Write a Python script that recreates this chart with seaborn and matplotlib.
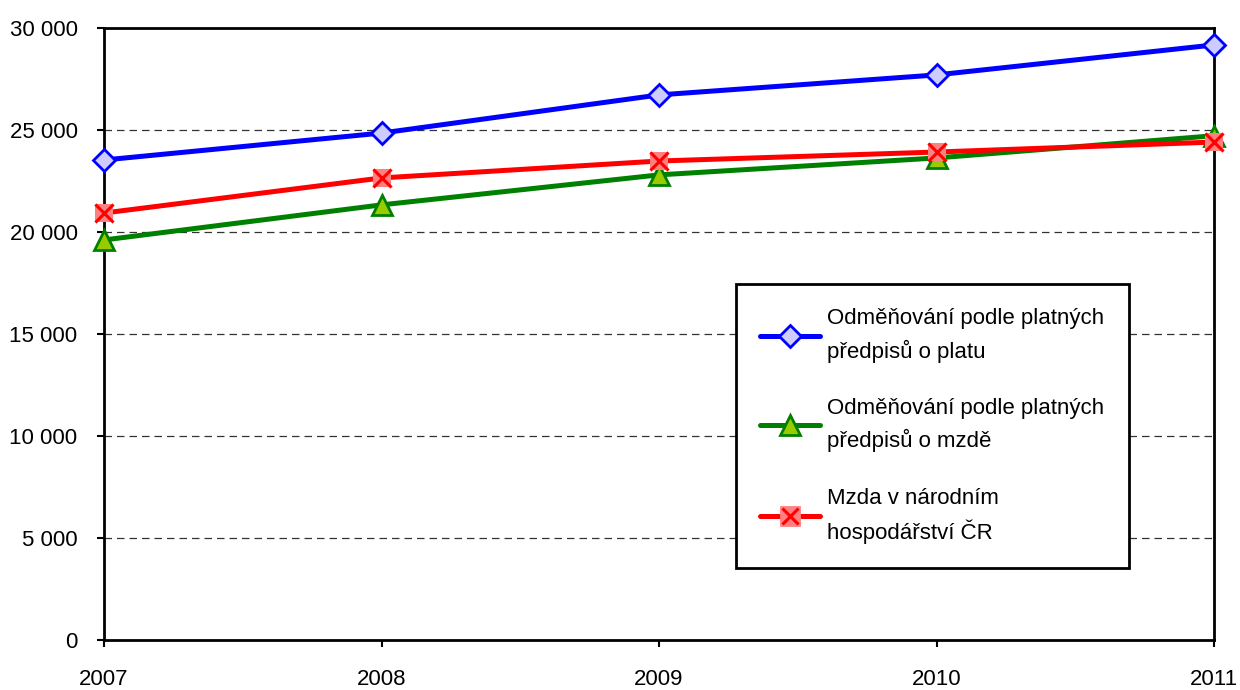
import matplotlib
matplotlib.use("Agg")
import matplotlib.pyplot as plt
import seaborn as sns
from matplotlib.lines import Line2D
from matplotlib.legend_handler import HandlerTuple
from matplotlib.ticker import FuncFormatter

years = [2007, 2008, 2009, 2010, 2011]
plat = [23530, 24850, 26720, 27700, 29170]
mzda_predpis = [19610, 21330, 22800, 23630, 24720]
mzda_nh = [20930, 22650, 23480, 23920, 24410]

labels = [
    "Odměňování podle platných\npředpisů o platu",
    "Odměňování podle platných\npředpisů o mzdě",
    "Mzda v národním\nhospodářství ČR",
]

sns.set_theme(style="white")
plt.rcParams["font.family"] = ["Liberation Sans", "DejaVu Sans"]
FS = 16

fig = plt.figure(figsize=(12.4, 6.9), dpi=100)
ax = fig.add_axes([104 / 1240, 1 - 640 / 690, 1110 / 1240, 612 / 690])

sns.lineplot(x=years, y=plat, ax=ax, color="#0000ff", linewidth=3.6,
             marker="D", markersize=11, markerfacecolor="#ccccff",
             markeredgecolor="#0000ff", markeredgewidth=2, clip_on=False, zorder=5)
sns.lineplot(x=years, y=mzda_predpis, ax=ax, color="#008000", linewidth=3.6,
             marker="^", markersize=14, markerfacecolor="#99cc00",
             markeredgecolor="#008000", markeredgewidth=2, clip_on=False, zorder=5)
sns.lineplot(x=years, y=mzda_nh, ax=ax, color="#ff0000", linewidth=3.6,
             marker="s", markersize=13, markerfacecolor="#ff8080",
             markeredgecolor="#ff8080", markeredgewidth=0, clip_on=False, zorder=6)
sns.scatterplot(x=years, y=mzda_nh, ax=ax, marker="x", s=170, color="#ff0000",
                linewidth=2.2, clip_on=False, zorder=7)

ax.set_xlim(2007, 2011)
ax.set_ylim(0, 30000)
ax.set_xticks(years)
ax.set_yticks(range(0, 30001, 5000))
ax.yaxis.set_major_formatter(FuncFormatter(lambda v, p: f"{int(v):,}".replace(",", " ")))

for y in range(5000, 30000, 5000):
    ax.axhline(y, color="#333333", linewidth=0.9, dashes=(6, 4), zorder=1)

for s in ax.spines.values():
    s.set_color("black")
    s.set_linewidth(2)
ax.tick_params(axis="both", which="major", direction="out", length=5, width=1.5,
               color="black", labelsize=FS, labelcolor="black")
ax.tick_params(axis="y", left=True, pad=14)
ax.tick_params(axis="x", bottom=True, pad=16)
ax.set_xlabel("")
ax.set_ylabel("")

def h(color, marker, face, size, edge=None):
    return Line2D([], [], color=color, linewidth=3.6, marker=marker, markersize=size,
                  markerfacecolor=face, markeredgecolor=edge or color, markeredgewidth=2)

h_red = (h("#ff0000", "s", "#ff8080", 13, "#ff8080"),
         Line2D([], [], linestyle="", marker="x", markersize=12, color="#ff0000", markeredgewidth=2.2))
handles = [h("#0000ff", "D", "#ccccff", 11), h("#008000", "^", "#99cc00", 14), h_red]

leg = ax.legend(handles, labels, loc="upper left", bbox_to_anchor=(632 / 1110, 1 - 256 / 612),
                frameon=True, fancybox=False, framealpha=1, edgecolor="black",
                fontsize=FS, handlelength=2.7, handletextpad=0.3, labelspacing=1.6,
                borderpad=1.1, borderaxespad=0, labelcolor="black",
                handler_map={tuple: HandlerTuple(ndivide=1, pad=0)})
leg.get_frame().set_linewidth(2)
for t in leg.get_texts():
    t.set_linespacing(1.55)

fig.savefig("out.png", dpi=100)
